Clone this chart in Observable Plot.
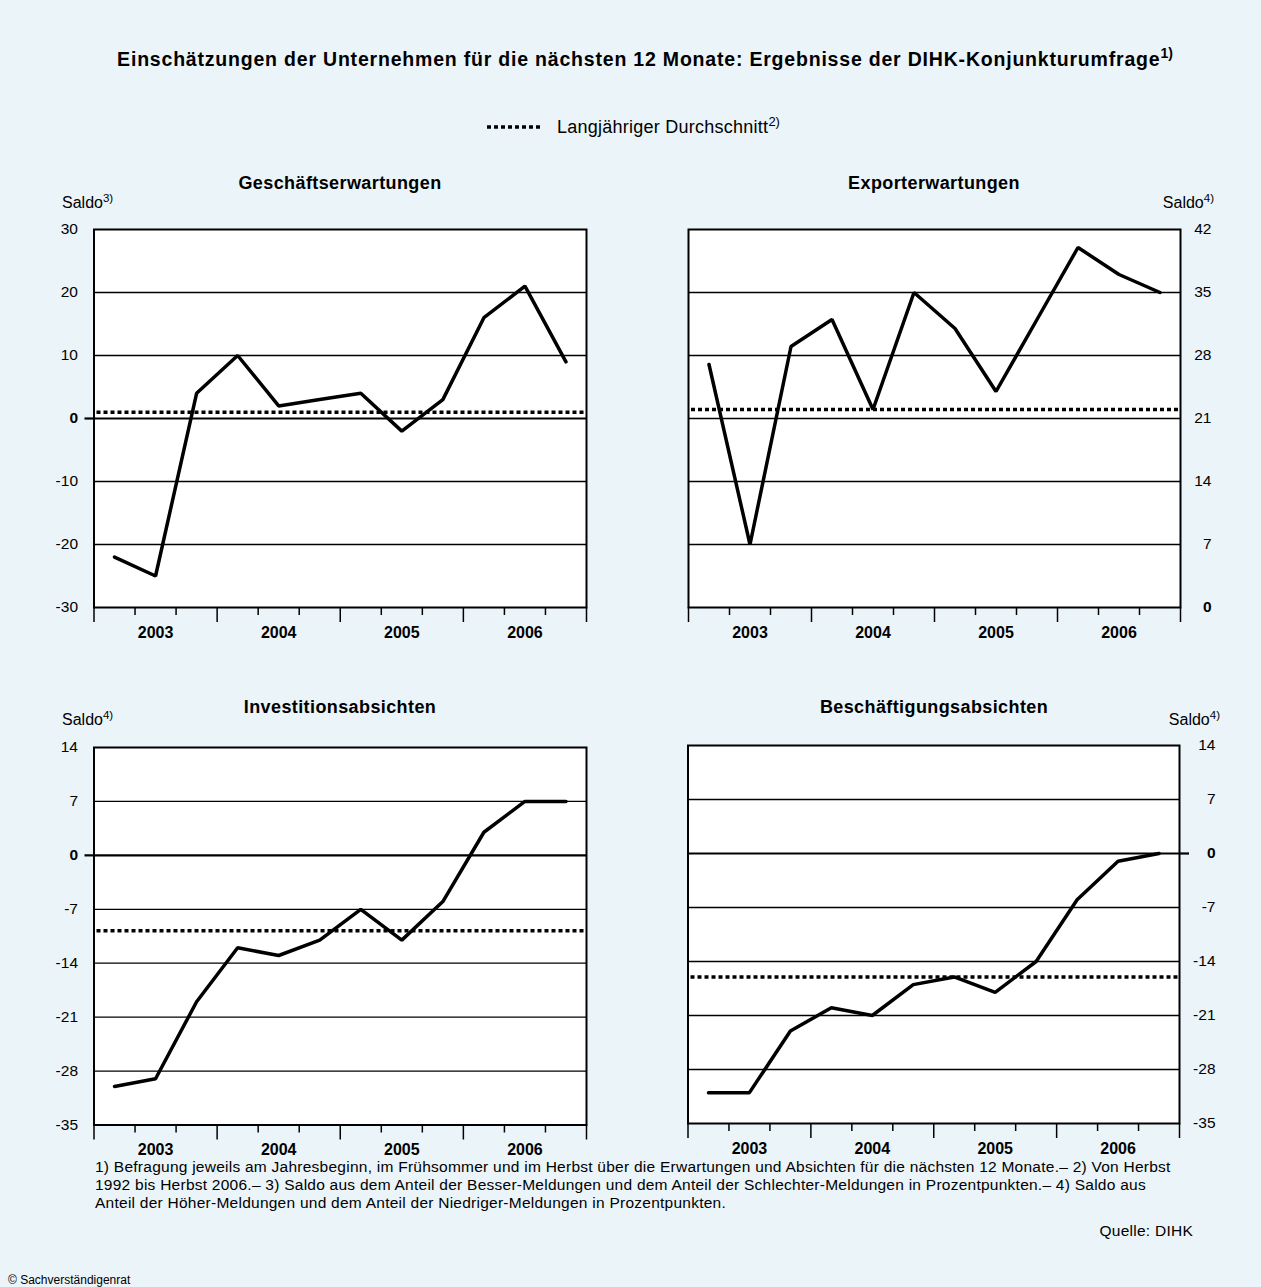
<!DOCTYPE html>
<html>
<head>
<meta charset="utf-8">
<script src="https://cdn.jsdelivr.net/npm/d3@7"></script>
<script src="https://cdn.jsdelivr.net/npm/@observablehq/plot@0.6"></script>
<style>
  html, body { margin: 0; padding: 0; background: #EBF4F8; }
  #page { position: relative; width: 1261px; height: 1287px; background: #EBF4F8;
          font-family: "Liberation Sans", Arial, Helvetica, sans-serif; color: #000; overflow: hidden; }
  .abs { position: absolute; white-space: nowrap; }
  sup { font-size: 0.72em; vertical-align: 0; position: relative; top: -0.55em; letter-spacing: 0; }
  svg { overflow: visible; }
</style>
</head>
<body>
<div id="page"></div>
<script>
// ---------- data ----------
const years = ["2003", "2004", "2005", "2006"];
const geschaeftserwartungen = [-22, -25, 4, 10, 2, 3, 4, -2, 3, 16, 21, 9];
const geschaeftAvg = 1;
const exporterwartungen = [27, 7, 29, 32, 22, 35, 31, 24, 32, 40, 37, 35];
const exportAvg = 22;
const investitionsabsichten = [-30, -29, -19, -12, -13, -11, -7, -11, -6, 3, 7, 7];
const investAvg = -9.8;
const beschaeftigungsabsichten = [-31, -31, -23, -20, -21, -17, -16, -18, -14, -6, -1, 0];
const beschaeftAvg = -16;
const ticksTop = [-30, -20, -10, 0, 10, 20, 30];
const ticksExport = [0, 7, 14, 21, 28, 35, 42];
const ticksBottom = [-35, -28, -21, -14, -7, 0, 7, 14];

const page = document.getElementById("page");
const FONT = '"Liberation Sans", Arial, Helvetica, sans-serif';

function label(html, x, y, style = {}, anchor = "middle") {
  const d = document.createElement("div");
  d.className = "abs";
  d.innerHTML = html;
  d.style.left = x + "px";
  d.style.top = y + "px";
  const tx = anchor === "middle" ? "-50%" : anchor === "end" ? "-100%" : "0";
  d.style.transform = `translate(${tx}, -50%)`;
  Object.assign(d.style, style);
  page.appendChild(d);
  return d;
}

function panel({values, avg, domain, ticks, side, fl, fr, ft, fb, labelPad, zeroExt}) {
  const left = side === "left" ? 0 : 640;
  const width = side === "left" ? 630 : 621;
  const padT = 20, padB = 50;
  const height = (fb - ft) + padT + padB;
  const data = values.map((v, i) => ({i: i + 0.5, v}));
  const inner = ticks.filter(d => d !== domain[0] && d !== domain[1] && d !== 0);
  const hasZeroLine = 0 > domain[0] && 0 < domain[1];
  const anchor = side === "left" ? "left" : "right";
  const marks = [
    Plot.frame({fill: "white"}),
    Plot.ruleY(inner, {stroke: "black", strokeWidth: 1.3}),
    hasZeroLine ? Plot.ruleY([0], {stroke: "black", strokeWidth: 2.2}) : null,
    Plot.ruleY([avg], {stroke: "black", strokeWidth: 3.5, strokeDasharray: "4,3", insetLeft: 3}),
    Plot.line(data, {x: "i", y: "v", stroke: "black", strokeWidth: 3.5, strokeLinejoin: "miter"}),
    Plot.frame({stroke: "black", strokeWidth: 2}),
    Plot.axisX({ticks: [0, 3, 6, 9, 12], tickSize: 15, tickFormat: () => "", strokeWidth: 1.5, label: null}),
    Plot.axisX({ticks: [1, 2, 4, 5, 7, 8, 10, 11], tickSize: 8, tickFormat: () => "", strokeWidth: 1.5, label: null}),
    Plot.axisX({ticks: [1.5, 4.5, 7.5, 10.5], tickSize: 0, tickPadding: 19, label: null,
                tickFormat: d => years[Math.floor(d / 3)], fontWeight: "bold", fontSize: 16,
                style: {letterSpacing: "1.4px"}}),
    Plot.axisY({anchor, ticks: ticks.filter(d => d !== 0), tickSize: 0, tickPadding: labelPad, label: null,
                tickFormat: d => String(d), fontSize: 15.5, textAnchor: "end"}),
    Plot.axisY({anchor, ticks: [0], tickSize: zeroExt ? 9 : 0, strokeWidth: 2.2, label: null,
                tickPadding: labelPad - (zeroExt ? 9 : 0), tickFormat: d => String(d),
                fontSize: 15.5, fontWeight: "bold", textAnchor: "end"})
  ].filter(Boolean);
  const svg = Plot.plot({
    width, height,
    marginLeft: fl - left, marginRight: width - (fr - left),
    marginTop: padT, marginBottom: padB,
    x: {domain: [0, 12]},
    y: {domain},
    style: {fontFamily: FONT, fontSize: "15px", color: "black", background: "transparent", overflow: "visible"},
    marks
  });
  svg.style.position = "absolute";
  svg.style.left = left + "px";
  svg.style.top = (ft - padT) + "px";
  page.appendChild(svg);
}

panel({values: geschaeftserwartungen, avg: geschaeftAvg, domain: [-30, 30], ticks: ticksTop,
       side: "left", fl: 93.5, fr: 586, ft: 229, fb: 607, labelPad: 16, zeroExt: true});
panel({values: exporterwartungen, avg: exportAvg, domain: [0, 42], ticks: ticksExport,
       side: "right", fl: 688, fr: 1180, ft: 229, fb: 607, labelPad: 31, zeroExt: false});
panel({values: investitionsabsichten, avg: investAvg, domain: [-35, 14], ticks: ticksBottom,
       side: "left", fl: 93.5, fr: 586, ft: 746.5, fb: 1124, labelPad: 16, zeroExt: true});
panel({values: beschaeftigungsabsichten, avg: beschaeftAvg, domain: [-35, 14], ticks: ticksBottom,
       side: "right", fl: 687.5, fr: 1179, ft: 745, fb: 1123, labelPad: 36, zeroExt: true});

// ---------- texts ----------
label("Einschätzungen der Unternehmen für die nächsten 12 Monate: Ergebnisse der DIHK-Konjunkturumfrage<sup>1)</sup>",
      645, 59, {fontWeight: "bold", fontSize: "19.5px", letterSpacing: "0.8px"});

// legend
label(`<svg width="54" height="6" style="display:block;overflow:visible"><line x1="0" x2="54" y1="3" y2="3" stroke="black" stroke-width="3.5" stroke-dasharray="4,3"/></svg>`,
      487, 127, {}, "start");
label("Langjähriger Durchschnitt<sup>2)</sup>", 557, 127, {fontSize: "18px", letterSpacing: "0.25px"}, "start");

const titleStyle = {fontWeight: "bold", fontSize: "18px", letterSpacing: "0.4px"};
label("Geschäftserwartungen", 340, 183, titleStyle);
label("Exporterwartungen", 934, 183, titleStyle);
label("Investitionsabsichten", 340, 707, titleStyle);
label("Beschäftigungsabsichten", 934, 707, titleStyle);

const saldoStyle = {fontSize: "16px"};
label("Saldo<sup>3)</sup>", 62, 203, saldoStyle, "start");
label("Saldo<sup>4)</sup>", 1214, 203, saldoStyle, "end");
label("Saldo<sup>4)</sup>", 62, 720, saldoStyle, "start");
label("Saldo<sup>4)</sup>", 1220, 720, saldoStyle, "end");

const foot = document.createElement("div");
foot.className = "abs";
foot.style.left = "95px";
foot.style.top = "1158px";
foot.style.fontSize = "15.5px";
foot.style.letterSpacing = "0.25px";
foot.style.lineHeight = "18px";
foot.innerHTML = "1) Befragung jeweils am Jahresbeginn, im Frühsommer und im Herbst über die Erwartungen und Absichten für die nächsten 12 Monate.– 2) Von Herbst<br>" +
  "1992 bis Herbst 2006.– 3) Saldo aus dem Anteil der Besser-Meldungen und dem Anteil der Schlechter-Meldungen in Prozentpunkten.– 4) Saldo aus<br>" +
  "Anteil der Höher-Meldungen und dem Anteil der Niedriger-Meldungen in Prozentpunkten.";
page.appendChild(foot);

label("Quelle: DIHK", 1193, 1231, {fontSize: "15.5px", letterSpacing: "0.25px"}, "end");
label("© Sachverständigenrat", 8, 1280, {fontSize: "12px"}, "start");
</script>
</body>
</html>
